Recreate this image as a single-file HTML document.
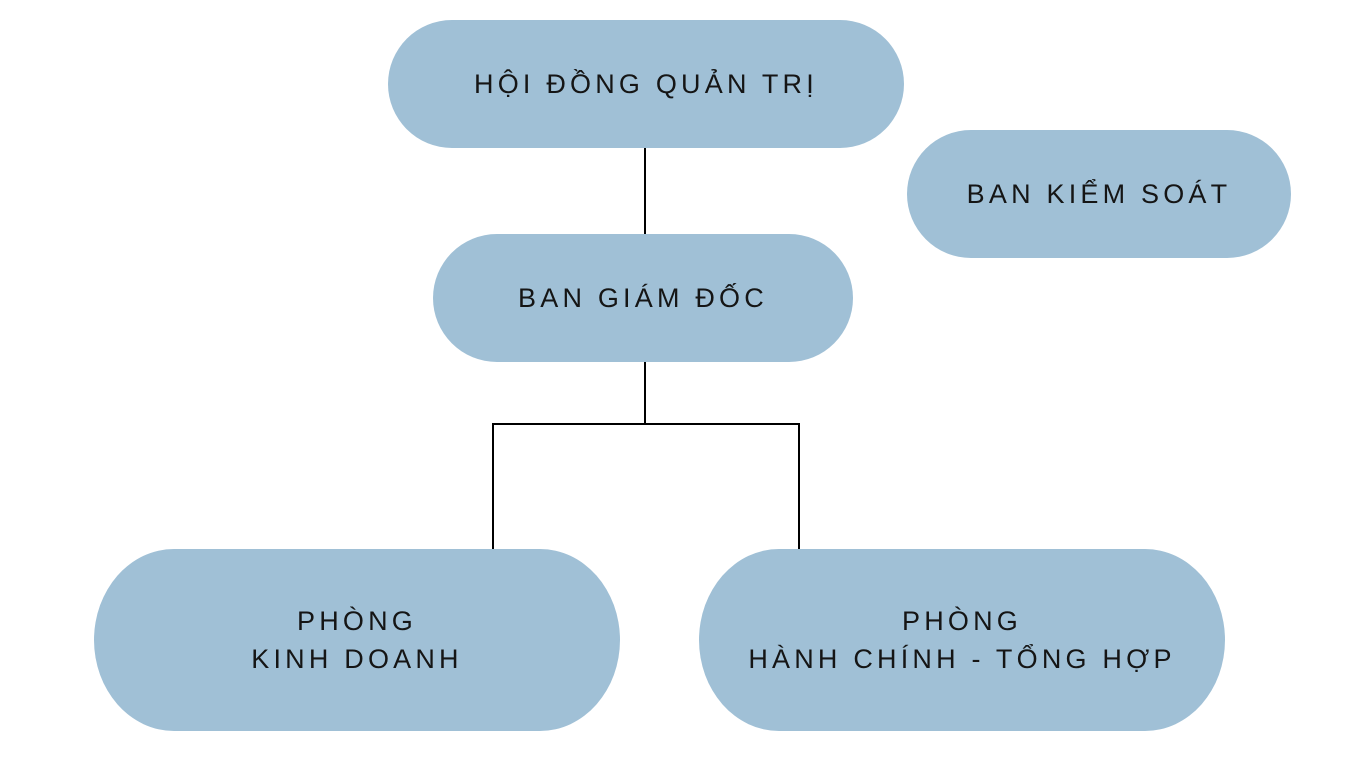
<!DOCTYPE html>
<html><head><meta charset="utf-8"><style>
html,body{margin:0;padding:0;background:#fff;}
body{width:1359px;height:757px;position:relative;overflow:hidden;font-family:"Liberation Sans",sans-serif;}
.n{position:absolute;background:#a0c0d6;display:flex;align-items:center;justify-content:center;text-align:center;color:#151515;font-size:27px;letter-spacing:4.2px;line-height:38px;}
.l{position:absolute;background:#000;}
</style></head><body>
<div class="n" style="left:388px;top:20px;width:516px;height:128px;border-radius:64px;">HỘI ĐỒNG QUẢN TRỊ</div>
<div class="n" style="left:907px;top:130px;width:384px;height:128px;border-radius:64px;">BAN KIỂM SOÁT</div>
<div class="n" style="left:433px;top:234px;width:420px;height:128px;border-radius:64px;">BAN GIÁM ĐỐC</div>
<div class="n" style="left:94px;top:549px;width:526px;height:182px;border-radius:80px/91px;">PHÒNG<br>KINH DOANH</div>
<div class="n" style="left:699px;top:549px;width:526px;height:182px;border-radius:80px/91px;">PHÒNG<br>HÀNH CHÍNH - TỔNG HỢP</div>
<div class="l" style="left:644px;top:148px;width:2px;height:86px;"></div>
<div class="l" style="left:644px;top:362px;width:2px;height:62px;"></div>
<div class="l" style="left:492px;top:423px;width:308px;height:2px;"></div>
<div class="l" style="left:492px;top:423px;width:2px;height:126px;"></div>
<div class="l" style="left:798px;top:423px;width:2px;height:126px;"></div>
</body></html>
